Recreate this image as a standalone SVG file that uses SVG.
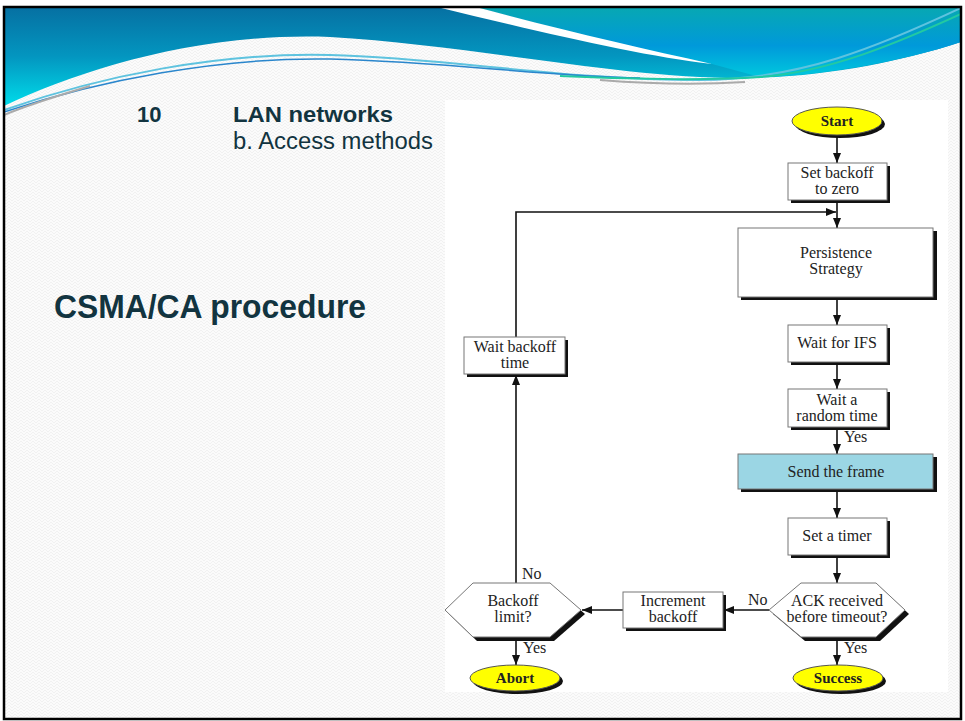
<svg xmlns="http://www.w3.org/2000/svg" width="965" height="721" viewBox="0 0 965 721">
  <defs>
    <linearGradient id="bandLeft" x1="0" y1="0" x2="0" y2="1">
      <stop offset="0" stop-color="#0670a2"/>
      <stop offset="0.5" stop-color="#0396c0"/>
      <stop offset="1" stop-color="#00dcea"/>
    </linearGradient>
    <linearGradient id="bandRight" x1="0" y1="0" x2="0" y2="1">
      <stop offset="0" stop-color="#07a8b2"/>
      <stop offset="0.55" stop-color="#0099da"/>
      <stop offset="1" stop-color="#00c8de"/>
    </linearGradient>
    <pattern id="weave" width="6" height="6" patternUnits="userSpaceOnUse">
      <rect width="6" height="6" fill="#fbfbfb"/>
      <path d="M0,3 L3,0 L6,3 M0,6 L3,3 L6,6" fill="none" stroke="#efefef" stroke-width="0.8"/>
    </pattern>
    <marker id="arrow" viewBox="0 0 10 8" refX="10" refY="4" markerWidth="10" markerHeight="8" markerUnits="userSpaceOnUse" orient="auto">
      <path d="M0,0 L10,4 L0,8 Z" fill="#111"/>
    </marker>
    <clipPath id="slide">
      <rect x="4" y="7" width="957" height="712"/>
    </clipPath>
  </defs>
  <style>
    .box { fill: #ffffff; stroke: #777777; stroke-width: 1; }
    .shade { fill: #111111; }
    .term { fill: #ffff00; stroke: #555555; stroke-width: 1; }
    .lbl { font-family: "Liberation Serif", "Times New Roman", serif; font-size: 16px; fill: #222222; text-anchor: middle; }
    .tag { font-family: "Liberation Serif", "Times New Roman", serif; font-size: 16px; fill: #222222; }
    .termlbl { font-family: "Liberation Serif", "Times New Roman", serif; font-size: 15px; font-weight: bold; fill: #222222; text-anchor: middle; }
    .wire { fill: none; stroke: #111111; stroke-width: 1.6; }
    .head { font-family: "Liberation Sans", Arial, sans-serif; fill: #123440; }
  </style>

  <!-- slide background -->
  <rect x="0" y="0" width="965" height="721" fill="#ffffff"/>
  <rect x="4" y="7" width="957" height="712" fill="url(#weave)"/>

  <!-- header swoosh -->
  <g id="header" clip-path="url(#slide)">
    <path d="M4,7 H961 V42 C900,62 820,78 740,78 C620,78 470,45 330,37 C200,32 80,70 4,106 Z" fill="url(#bandLeft)"/>
    <path d="M476,7 H961 V42 C900,62 820,76 760,77 L712,64 C640,50 560,30 476,7 Z" fill="url(#bandRight)"/>
    <path d="M437,7 L476,7 C560,30 640,48 712,64 C640,56 540,32 437,7 Z" fill="#ffffff"/>
    <path d="M4,110 C100,76 220,52 330,55 C450,58 560,80 700,80 C800,80 880,46 961,8" fill="none" stroke="#5ec3df" stroke-width="2"/>
    <path d="M4,112 C100,80 220,57 330,59 C450,62 540,76 640,78" fill="none" stroke="#2a86cc" stroke-width="1.5"/>
    <path d="M560,76 C640,80 720,80 760,77 C830,72 900,42 961,14" fill="none" stroke="#22c9a2" stroke-width="2"/>
    <path d="M4,115 C30,104 60,95 90,86" fill="none" stroke="#aaaaaa" stroke-width="2"/>
    <path d="M600,80 C650,84 700,85 745,82" fill="none" stroke="#aaaaaa" stroke-width="2"/>
  </g>

  <!-- slide frame -->
  <rect x="4" y="7" width="957" height="712" fill="none" stroke="#000000" stroke-width="2.5"/>

  <!-- headings -->
  <g id="heading">
    <text class="head" x="137" y="122" font-size="22" font-weight="bold">10</text>
    <text class="head" x="233" y="122" font-size="22" font-weight="bold" textLength="160" lengthAdjust="spacingAndGlyphs">LAN networks</text>
    <text class="head" x="233" y="149" font-size="23" textLength="200" lengthAdjust="spacingAndGlyphs">b. Access methods</text>
    <text class="head" x="54" y="318" font-size="33" font-weight="bold" textLength="312" lengthAdjust="spacingAndGlyphs">CSMA/CA procedure</text>
  </g>

  <!-- flowchart panel -->
  <rect x="445" y="100" width="503" height="592" fill="#ffffff"/>

  <!-- connectors -->
  <g id="connectors">
    <path class="wire" d="M837,135 V163" marker-end="url(#arrow)"/>
    <path class="wire" d="M837,200 V228" marker-end="url(#arrow)"/>
    <path class="wire" d="M516,337 V212 H836" marker-end="url(#arrow)"/>
    <path class="wire" d="M837,297 V325" marker-end="url(#arrow)"/>
    <path class="wire" d="M837,362 V389" marker-end="url(#arrow)"/>
    <path class="wire" d="M837,427 V454" marker-end="url(#arrow)"/>
    <path class="wire" d="M837,489 V518" marker-end="url(#arrow)"/>
    <path class="wire" d="M837,555 V583" marker-end="url(#arrow)"/>
    <path class="wire" d="M769,610 H724" marker-end="url(#arrow)"/>
    <path class="wire" d="M623,610 H582" marker-end="url(#arrow)"/>
    <path class="wire" d="M516,583 V375" marker-end="url(#arrow)"/>
    <path class="wire" d="M516,637 V665" marker-end="url(#arrow)"/>
    <path class="wire" d="M837,637 V665" marker-end="url(#arrow)"/>
    <text class="tag" x="844" y="442">Yes</text>
    <text class="tag" x="748" y="605">No</text>
    <text class="tag" x="522" y="579">No</text>
    <text class="tag" x="523" y="653">Yes</text>
    <text class="tag" x="844" y="653">Yes</text>
  </g>

  <!-- nodes -->
  <g id="start">
    <ellipse class="shade" cx="840" cy="124" rx="45" ry="14"/>
    <ellipse class="term" cx="837" cy="121" rx="45" ry="14"/>
    <text class="termlbl" x="837" y="126">Start</text>
  </g>

  <g id="set-backoff">
    <rect class="shade" x="791" y="166" width="99" height="37"/>
    <rect class="box" x="788" y="163" width="99" height="37"/>
    <text class="lbl" x="837" y="178">Set backoff</text>
    <text class="lbl" x="837" y="194">to zero</text>
  </g>

  <g id="persistence">
    <rect class="shade" x="741" y="231" width="196" height="69"/>
    <rect class="box" x="738" y="228" width="195" height="69"/>
    <text class="lbl" x="836" y="258">Persistence</text>
    <text class="lbl" x="836" y="274">Strategy</text>
  </g>

  <g id="wait-ifs">
    <rect class="shade" x="791" y="328" width="99" height="37"/>
    <rect class="box" x="788" y="325" width="99" height="37"/>
    <text class="lbl" x="837" y="348">Wait for IFS</text>
  </g>

  <g id="wait-random">
    <rect class="shade" x="791" y="392" width="99" height="38"/>
    <rect class="box" x="788" y="389" width="99" height="38"/>
    <text class="lbl" x="837" y="405">Wait a</text>
    <text class="lbl" x="837" y="421">random time</text>
  </g>

  <g id="send-frame">
    <rect class="shade" x="741" y="457" width="196" height="35"/>
    <rect class="box" x="738" y="454" width="195" height="35" fill="#9bd6e4" style="fill:#9bd6e4"/>
    <text class="lbl" x="836" y="477">Send the frame</text>
  </g>

  <g id="set-timer">
    <rect class="shade" x="791" y="521" width="99" height="37"/>
    <rect class="box" x="788" y="518" width="99" height="37"/>
    <text class="lbl" x="837" y="541">Set a timer</text>
  </g>

  <g id="ack-check">
    <polygon class="shade" points="773,614 805,587 880,587 909,614 880,641 805,641"/>
    <polygon class="box" points="769,610 801,583 876,583 905,610 876,637 801,637"/>
    <text class="lbl" x="837" y="606">ACK received</text>
    <text class="lbl" x="837" y="622">before timeout?</text>
  </g>

  <g id="increment-backoff">
    <rect class="shade" x="626" y="595" width="100" height="36"/>
    <rect class="box" x="623" y="592" width="100" height="36"/>
    <text class="lbl" x="673" y="606">Increment</text>
    <text class="lbl" x="673" y="622">backoff</text>
  </g>

  <g id="backoff-limit">
    <polygon class="shade" points="449,614 477,587 554,587 585,614 554,641 477,641"/>
    <polygon class="box" points="445,610 473,583 550,583 581,610 550,637 473,637"/>
    <text class="lbl" x="513" y="606">Backoff</text>
    <text class="lbl" x="513" y="622">limit?</text>
  </g>

  <g id="wait-backoff">
    <rect class="shade" x="467" y="340" width="101" height="37"/>
    <rect class="box" x="464" y="337" width="101" height="37"/>
    <text class="lbl" x="515" y="352">Wait backoff</text>
    <text class="lbl" x="515" y="368">time</text>
  </g>

  <g id="abort">
    <ellipse class="shade" cx="518" cy="681" rx="45" ry="13"/>
    <ellipse class="term" cx="515" cy="678" rx="45" ry="13"/>
    <text class="termlbl" x="515" y="683">Abort</text>
  </g>

  <g id="success">
    <ellipse class="shade" cx="841" cy="681" rx="45" ry="13"/>
    <ellipse class="term" cx="838" cy="678" rx="45" ry="13"/>
    <text class="termlbl" x="838" y="683">Success</text>
  </g>
</svg>
